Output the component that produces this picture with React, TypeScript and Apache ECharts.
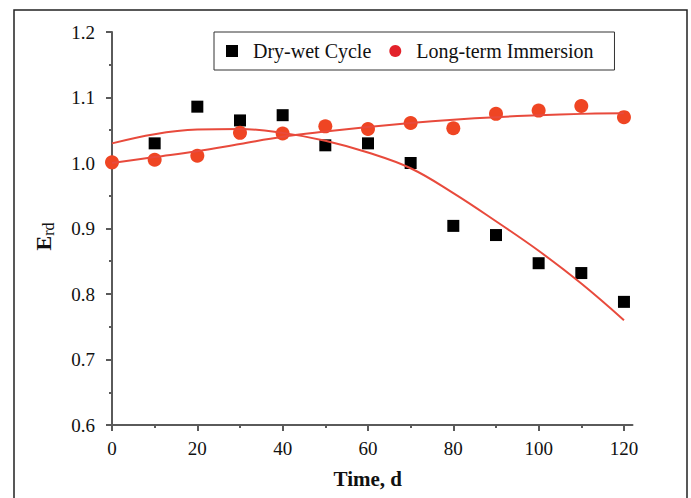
import React, { useEffect, useRef } from "react";
import * as echarts from "echarts";

const times = [0, 10, 20, 30, 40, 50, 60, 70, 80, 90, 100, 110, 120];
const dryWetTimes = [10, 20, 30, 40, 50, 60, 70, 80, 90, 100, 110, 120];
const dryWet = [1.03, 1.086, 1.065, 1.073, 1.027, 1.03, 1.0, 0.904, 0.89, 0.847, 0.832, 0.788];
const immersion = [1.001, 1.005, 1.011, 1.046, 1.045, 1.056, 1.052, 1.061, 1.053, 1.075, 1.08, 1.087, 1.07];
const dryWetFit = [1.03, 1.044, 1.051, 1.052, 1.046, 1.034, 1.016, 0.992, 0.954, 0.911, 0.866, 0.816, 0.76];
const immersionFit = [1.0, 1.009, 1.018, 1.029, 1.04, 1.048, 1.055, 1.061, 1.066, 1.07, 1.073, 1.075, 1.076];
const xMajorTicks = [0, 20, 40, 60, 80, 100, 120];
const xMinorTicks = [10, 30, 50, 70, 90, 110];
const seriesNames = ["Dry-wet Cycle", "Long-term Immersion"];

const FONT = "'Liberation Serif', 'DejaVu Serif', serif";
const AXIS_COLOR = "#5a5a5a";

const pairs = (xs: number[], ys: number[]) => xs.map((t, i) => [t, ys[i]]);

export default function App() {
  const ref = useRef<HTMLDivElement>(null);
  useEffect(() => {
    if (!ref.current) return;
    const chart = echarts.init(ref.current, undefined, { renderer: "svg" });
    chart.setOption({
      animation: false,
      backgroundColor: "#ffffff",
      graphic: [
        {
          type: "rect",
          shape: { x: 14, y: 10, width: 673, height: 500 },
          style: { fill: "none", stroke: "#222", lineWidth: 1.5 },
          silent: true,
        },
      ],
      legend: {
        data: [
          { name: seriesNames[0], itemStyle: { color: "#000000" } },
          { name: seriesNames[1], itemStyle: { color: "#e3222a" } },
        ],
        left: 214,
        top: 32,
        orient: "horizontal",
        borderColor: "#333",
        borderWidth: 1,
        padding: [9, 21, 9, 12],
        itemGap: 18,
        itemWidth: 12,
        itemHeight: 12,
        textStyle: { fontFamily: FONT, fontSize: 20, color: "#111", padding: [0, 0, 0, 10] },
      },
      grid: { left: 112, top: 32, width: 520.5, height: 393 },
      xAxis: [
        {
          type: "value",
          min: 0,
          max: 122,
          name: "Time, d",
          nameLocation: "middle",
          nameGap: 43,
          nameTextStyle: { fontFamily: FONT, fontSize: 21, fontWeight: "bold", color: "#111", padding: [0, 9, 0, 0] },
          axisLine: { show: true, lineStyle: { color: AXIS_COLOR, width: 2 } },
          axisTick: { show: true, length: 6, lineStyle: { color: AXIS_COLOR, width: 2 }, customValues: xMajorTicks },
          axisLabel: { fontFamily: FONT, fontSize: 19, color: "#111", margin: 14, customValues: xMajorTicks },
          splitLine: { show: false },
        },
        {
          type: "value",
          min: 0,
          max: 122,
          position: "bottom",
          axisLine: { show: false },
          axisTick: { show: true, length: 3, lineStyle: { color: AXIS_COLOR, width: 2 }, customValues: xMinorTicks },
          axisLabel: { show: false },
          splitLine: { show: false },
        },
      ],
      yAxis: {
        type: "value",
        min: 0.6,
        max: 1.2,
        interval: 0.1,
        name: "{e|E}{s|rd}",
        nameLocation: "middle",
        nameGap: 56,
        nameTextStyle: {
          padding: [0, 16, 0, 0],
          rich: {
            e: { fontFamily: FONT, fontSize: 22, fontWeight: "bold", color: "#111" },
            s: { fontFamily: FONT, fontSize: 16, color: "#111", padding: [9, 0, 0, 0] },
          },
        },
        axisLine: { show: true, lineStyle: { color: AXIS_COLOR, width: 2 } },
        axisTick: { show: true, length: 6, lineStyle: { color: AXIS_COLOR, width: 2 } },
        minorTick: { show: true, splitNumber: 2, length: 3, lineStyle: { color: AXIS_COLOR, width: 2 } },
        axisLabel: { fontFamily: FONT, fontSize: 19, color: "#111", margin: 17, formatter: (v: number) => v.toFixed(1) },
        splitLine: { show: false },
      },
      series: [
        {
          name: seriesNames[0],
          type: "scatter",
          symbol: "rect",
          symbolSize: 12,
          itemStyle: { color: "#000000", opacity: 1 },
          data: pairs(dryWetTimes, dryWet),
          z: 2,
        },
        {
          name: seriesNames[1],
          type: "scatter",
          symbol: "circle",
          symbolSize: 14,
          itemStyle: { color: "#ef4523", opacity: 1 },
          data: pairs(times, immersion),
          z: 3,
        },
        {
          name: "Dry-wet fit",
          type: "line",
          smooth: 0.4,
          showSymbol: false,
          symbol: "none",
          lineStyle: { color: "#e84a3c", width: 2 },
          data: pairs(times, dryWetFit),
          z: 4,
        },
        {
          name: "Immersion fit",
          type: "line",
          smooth: 0.4,
          showSymbol: false,
          symbol: "none",
          lineStyle: { color: "#e84a3c", width: 2 },
          data: pairs(times, immersionFit),
          z: 4,
        },
      ],
    });
    return () => chart.dispose();
  }, []);
  return (
    <div
      ref={ref}
      style={{ position: "fixed", left: 0, top: 0, width: 691, height: 498, background: "#fff" }}
    />
  );
}
